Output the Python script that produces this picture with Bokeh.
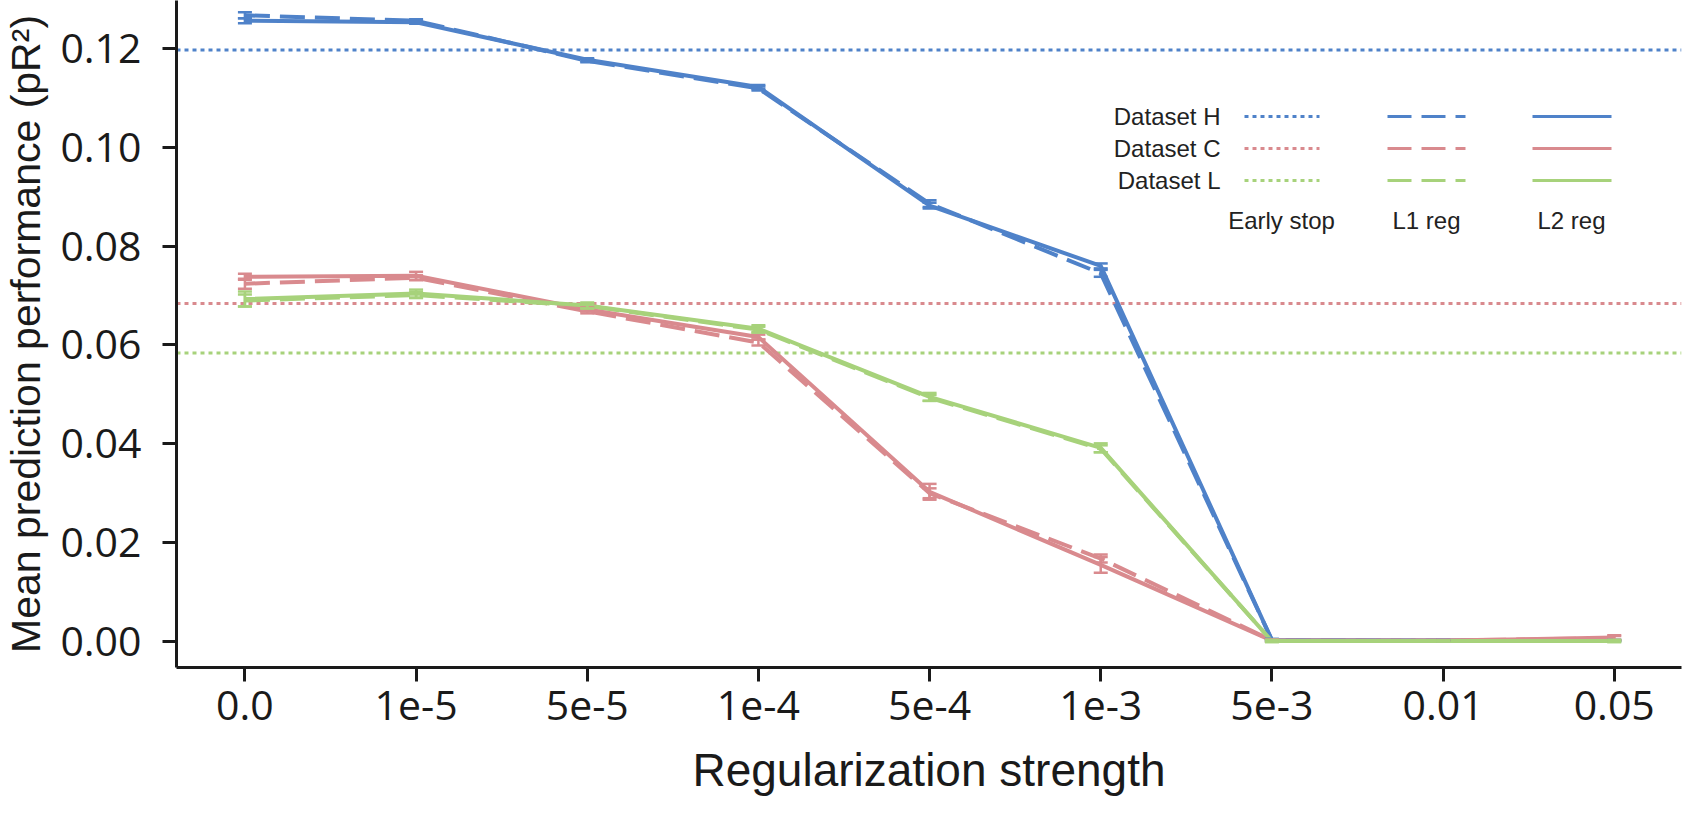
from bokeh.plotting import figure
from bokeh.models import (Range1d, FixedTicker, NumeralTickFormatter, Span, Whisker,
                          TeeHead, ColumnDataSource, Label, Arrow)
from bokeh.embed import file_html
from bokeh.resources import INLINE

# ---------------- data ----------------
categories = ["0.0", "1e-5", "5e-5", "1e-4", "5e-4", "1e-3", "5e-3", "0.01", "0.05"]
datasets = ["Dataset H", "Dataset C", "Dataset L"]
colors = ["#4f82c9", "#d98a8e", "#a7d27b"]
y_ticks = [0.0, 0.02, 0.04, 0.06, 0.08, 0.10, 0.12]

early_stop = [0.1197, 0.0684, 0.0584]

l2_H = [0.1256, 0.1253, 0.1177, 0.1122, 0.0882, 0.0760, 0.0003, 0.0002, 0.0002]
l1_H = [0.1267, 0.1256, 0.1175, 0.1119, 0.0886, 0.0745, 0.0003, 0.0002, 0.0002]
l2_H_err = [0.0005, 0.0003, 0.0003, 0.0004, 0.0006, 0.0005, 0.0002, 0.0001, 0.0001]
l1_H_err = [0.0006, 0.0003, 0.0003, 0.0004, 0.0007, 0.0007, 0.0002, 0.0001, 0.0001]

l2_C = [0.0738, 0.0740, 0.0672, 0.0616, 0.0303, 0.0155, 0.0002, 0.0002, 0.0008]
l1_C = [0.0724, 0.0736, 0.0668, 0.0605, 0.0300, 0.0168, 0.0002, 0.0002, 0.0007]
l2_C_err = [0.0006, 0.0008, 0.0004, 0.0005, 0.0016, 0.0016, 0.0002, 0.0001, 0.0005]
l1_C_err = [0.0010, 0.0005, 0.0004, 0.0006, 0.0010, 0.0008, 0.0002, 0.0001, 0.0004]

l2_L = [0.0693, 0.0704, 0.0680, 0.0633, 0.0495, 0.0392, 0.0001, 0.0001, 0.0001]
l1_L = [0.0690, 0.0701, 0.0679, 0.0631, 0.0493, 0.0390, 0.0001, 0.0001, 0.0001]
l2_L_err = [0.0015, 0.0008, 0.0006, 0.0007, 0.0008, 0.0009, 0.0002, 0.0001, 0.0002]
l1_L_err = [0.0012, 0.0006, 0.0005, 0.0006, 0.0006, 0.0007, 0.0002, 0.0001, 0.0002]

l1_all = [l1_H, l1_C, l1_L]
l2_all = [l2_H, l2_C, l2_L]
l1_err_all = [l1_H_err, l1_C_err, l1_L_err]
l2_err_all = [l2_H_err, l2_C_err, l2_L_err]

# ---------------- figure ----------------
TICK_FONT = "Open Sans"
TITLE_FONT = "Liberation Sans"
AX = "#1a1a1a"

p = figure(width=1683, height=798, output_backend="svg", toolbar_location=None,
           x_range=Range1d(-0.3997, 8.393), y_range=Range1d(-0.00525, 0.1297),
           min_border_left=174, min_border_right=2, min_border_top=0, min_border_bottom=130)
p.outline_line_color = None
p.xgrid.visible = False
p.ygrid.visible = False
p.background_fill_color = "white"
p.border_fill_color = "white"

xs = list(range(len(categories)))

# early stopping reference lines
for k in range(3):
    p.add_layout(Span(location=early_stop[k], dimension="width", line_color=colors[k],
                      line_width=3, line_dash="4 4", level="underlay"))

# L1 (dashed) then L2 (solid)
for k in range(3):
    p.line(xs, l1_all[k], line_color=colors[k], line_width=4, line_dash="25 10")
for k in range(3):
    p.line(xs, l2_all[k], line_color=colors[k], line_width=4)

# error bars
for k in range(3):
    for vals, errs in ((l1_all[k], l1_err_all[k]), (l2_all[k], l2_err_all[k])):
        src = ColumnDataSource(dict(x=xs,
                                    upper=[v + e for v, e in zip(vals, errs)],
                                    lower=[v - e for v, e in zip(vals, errs)]))
        w = Whisker(source=src, base="x", upper="upper", lower="lower",
                    line_color=colors[k], line_width=2.5, level="glyph",
                    upper_head=TeeHead(size=14, line_color=colors[k], line_width=2.5),
                    lower_head=TeeHead(size=14, line_color=colors[k], line_width=2.5))
        p.add_layout(w)

# axes
for ax in (p.xaxis[0], p.yaxis[0]):
    ax.axis_line_width = 3
    ax.axis_line_color = AX
    ax.major_tick_line_width = 3
    ax.major_tick_line_color = AX
    ax.major_tick_out = 14
    ax.major_tick_in = 0
    ax.minor_tick_out = 0
    ax.minor_tick_in = 0
    ax.minor_tick_line_color = None
    ax.major_label_text_font = TICK_FONT
    ax.major_label_text_font_size = "41px"
    ax.major_label_text_color = AX
    ax.axis_label_text_font = TITLE_FONT
    ax.axis_label_text_font_style = "normal"
    ax.axis_label_text_color = AX

p.xaxis[0].ticker = FixedTicker(ticks=xs)
p.xaxis[0].major_label_overrides = {i: c for i, c in enumerate(categories)}
p.xaxis[0].major_label_standoff = 9
p.xaxis[0].axis_label = "Regularization strength"
p.xaxis[0].axis_label_text_font_size = "46px"
p.xaxis[0].axis_label_standoff = 21

p.yaxis[0].ticker = FixedTicker(ticks=y_ticks)
p.yaxis[0].formatter = NumeralTickFormatter(format="0.00")
p.yaxis[0].major_label_standoff = 21
p.yaxis[0].axis_label = "Mean prediction performance (pR\u00b2)"
p.yaxis[0].axis_label_text_font_size = "41px"
p.yaxis[0].axis_label_standoff = 8

# custom legend (screen units relative to frame)
LEG_FONT = "Liberation Sans"
row_y = [551, 519, 487]
col_x = [(1068, 1143, "4 4"), (1211, 1289, "24 10"), (1356, 1435, "solid")]
for k in range(3):
    p.add_layout(Label(x=1044, y=row_y[k], x_units="screen", y_units="screen",
                       text=datasets[k], text_align="right", text_baseline="middle",
                       text_font=LEG_FONT, text_font_size="24px", text_color="#222222"))
    for (x0, x1, dash) in col_x:
        p.add_layout(Arrow(x_start=x0, y_start=row_y[k], x_end=x1, y_end=row_y[k],
                           start_units="screen", end_units="screen", start=None, end=None,
                           line_color=colors[k], line_width=3, line_dash=dash))
for text, cx in (("Early stop", 1105), ("L1 reg", 1250), ("L2 reg", 1395)):
    p.add_layout(Label(x=cx, y=447, x_units="screen", y_units="screen", text=text,
                       text_align="center", text_baseline="alphabetic",
                       text_font=LEG_FONT, text_font_size="24px", text_color="#222222"))

open("out.html", "w").write(file_html(p, INLINE))
